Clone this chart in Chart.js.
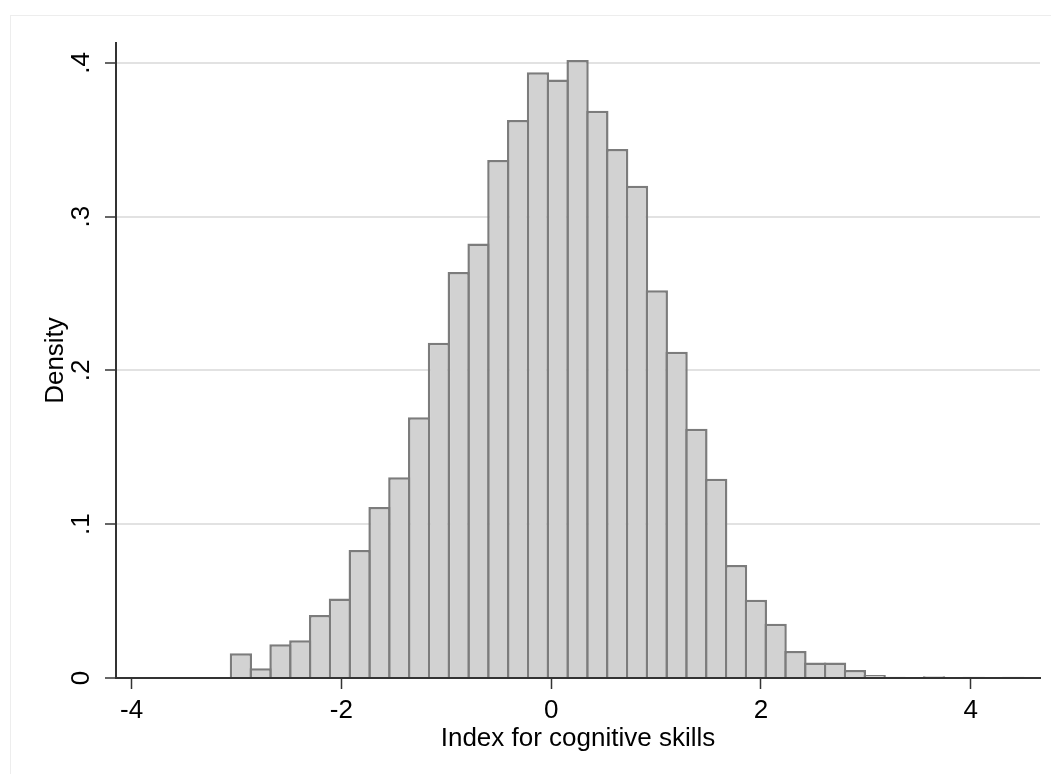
<!DOCTYPE html>
<html>
<head>
<meta charset="utf-8">
<title>Index for cognitive skills – histogram</title>
<script src="https://cdn.jsdelivr.net/npm/chart.js@4/dist/chart.umd.min.js"></script>
<style>
  html, body { margin: 0; padding: 0; background: #fff; overflow: hidden; }
  #wrap { position: relative; width: 1051px; height: 774px; }
  /* faint outer frame of the graph region, runs off the right and bottom edge */
  #frame { position: absolute; left: 10px; top: 15px; width: 1100px; height: 800px; border: 1px solid #ededed; }
  #grafico { position: absolute; left: 0; top: 0; }
</style>
</head>
<body>
<div id="wrap">
  <div id="frame"></div>
  <canvas id="grafico" width="1051" height="774"></canvas>
</div>
<script>
// histogram bins
const binStart = -3.052;
const binWidth = 0.1888;
const densidade = [
  0.0161, 0.0063, 0.0219, 0.0245, 0.0410, 0.0517, 0.0832, 0.1112, 0.1305, 0.1696,
  0.2180, 0.2640, 0.2825, 0.3368, 0.3629, 0.3939, 0.3892, 0.4018, 0.3689, 0.3440,
  0.3201, 0.2521, 0.2122, 0.1620, 0.1296, 0.0734, 0.0508, 0.0352, 0.0176, 0.0100,
  0.0100, 0.0052, 0.0020, 0.0008, 0, 0.0012, 0, 0.0008, 0, 0.0008
];

// axes
const xTicks = [-4, -2, 0, 2, 4];
const xTickLabels = ['-4', '-2', '0', '2', '4'];
const yTicks = [0, 0.1, 0.2, 0.3, 0.4];
const yTickLabels = ['0', '.1', '.2', '.3', '.4'];
const xRange = [-4.148, 4.660];
const yRange = [0, 0.4129];

const fonte = { family: "'Liberation Sans', Arial, sans-serif", size: 26 };
const corEixo = '#333333';

Chart.defaults.color = '#000';
Chart.defaults.font = fonte;

const pontos = densidade.map((d, i) => ({ x: binStart + (i + 0.5) * binWidth, y: d }));

new Chart(document.getElementById('grafico').getContext('2d'), {
  type: 'bar',
  data: {
    datasets: [{
      data: pontos,
      backgroundColor: '#d2d2d2',
      borderColor: '#7c7c7c',
      borderWidth: 2.5,
      borderSkipped: 'start',
      barPercentage: 1,
      categoryPercentage: 1.126 // bars overlap so neighbouring outlines merge into one stroke
    }]
  },
  options: {
    responsive: false,
    animation: false,
    layout: { padding: { top: 43, right: 11, bottom: 20, left: 0 } },
    plugins: { legend: { display: false }, tooltip: { enabled: false } },
    scales: {
      x: {
        type: 'linear',
        min: xRange[0], max: xRange[1],
        offset: false,
        afterBuildTicks: s => { s.ticks = xTicks.map(v => ({ value: v })); },
        afterFit: s => { s.height = 76; },
        ticks: { autoSkip: false, maxRotation: 0, padding: 6, callback: (v, i) => xTickLabels[i] },
        grid: { offset: false, drawOnChartArea: false, drawTicks: true, tickLength: 11, tickColor: corEixo, tickWidth: 1.5 },
        border: { color: corEixo, width: 2 },
        title: { display: true, text: 'Index for cognitive skills', font: fonte, padding: { top: 0, bottom: 0 } }
      },
      y: {
        min: yRange[0], max: yRange[1],
        afterBuildTicks: s => { s.ticks = yTicks.map(v => ({ value: v })); },
        afterFit: s => { s.width = 116; },
        ticks: { minRotation: 90, maxRotation: 90, crossAlign: 'center', padding: 12, callback: (v, i) => yTickLabels[i] },
        grid: { color: '#e2e2e2', lineWidth: 2, drawTicks: true, tickLength: 11, tickColor: corEixo, tickWidth: 1.5 },
        border: { color: corEixo, width: 2 },
        title: { display: true, text: 'Density', font: fonte, padding: { top: 40, bottom: 0 } }
      }
    }
  }
});
</script>
</body>
</html>
